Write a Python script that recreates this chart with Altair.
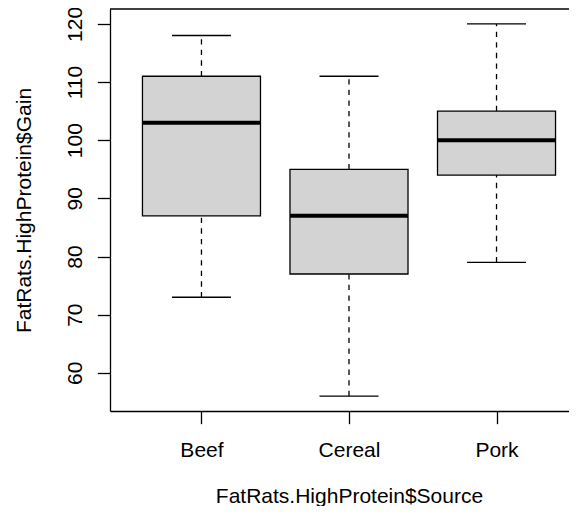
import json
import altair as alt
import pandas as pd

categories = ["Beef", "Cereal", "Pork"]
lower = [73, 56, 79]
q1 = [87, 77, 94]
median = [103, 87, 100]
q3 = [111, 95, 105]
upper = [118, 111, 120]
y_ticks = [60, 70, 80, 90, 100, 110, 120]

df = pd.DataFrame({
    "cat": categories,
    "pos": list(range(1, len(categories) + 1)),
    "lower": lower, "q1": q1, "median": median, "q3": q3, "upper": upper,
})

FONT = "Liberation Sans"
LW = 1.3
W, H = 459, 402

xs = alt.Scale(domain=[0.38, 0.38 + W / 147.53], nice=False, zero=False)
ys = alt.Scale(domain=[53.44, 122.56], nice=False, zero=False)

xaxis = alt.Axis(
    values=[1, 2, 3],
    labelExpr=f"{json.dumps(categories)}[datum.value - 1]",
    title="FatRats.HighProtein$Source",
    domain=True, domainColor="black", domainWidth=LW, grid=False,
    tickSize=12.7, tickWidth=LW, tickColor="black",
    labelFont=FONT, labelFontSize=21, labelColor="black",
    labelBaseline="alphabetic", labelPadding=33, labelAlign="center",
    titleFont=FONT, titleFontSize=21, titleFontWeight="normal", titleColor="black",
    titleBaseline="alphabetic", titleY=91, titleX=239, titleAlign="center",
)
yaxis = alt.Axis(
    values=y_ticks,
    title="FatRats.HighProtein$Gain",
    domain=True, domainColor="black", domainWidth=LW, grid=False,
    tickSize=12.7, tickWidth=LW, tickColor="black",
    labelFont=FONT, labelFontSize=21, labelColor="black",
    labelAngle=-90, labelAlign="center", labelBaseline="alphabetic",
    labelPadding=15.6,
    titleFont=FONT, titleFontSize=21, titleFontWeight="normal", titleColor="black",
    titleAngle=-90, titleAlign="center", titleBaseline="alphabetic",
    titleX=-80, titleY=201,
)

base = alt.Chart(df).transform_calculate(
    xl="datum.pos - 0.4", xr="datum.pos + 0.4",
    cl="datum.pos - 0.2", cr="datum.pos + 0.2",
)

def X(f):
    return alt.X(f"{f}:Q", scale=xs, axis=xaxis)

def Y(f):
    return alt.Y(f"{f}:Q", scale=ys, axis=yaxis)

whisk_up = base.mark_rule(color="black", strokeWidth=LW, strokeDash=[5.3, 5.3]).encode(
    x=X("pos"), y=Y("q3"), y2="upper:Q")
whisk_lo = base.mark_rule(color="black", strokeWidth=LW, strokeDash=[5.3, 5.3]).encode(
    x=X("pos"), y=Y("lower"), y2="q1:Q")
cap_up = base.mark_rule(color="black", strokeWidth=LW).encode(
    x=X("cl"), x2="cr:Q", y=Y("upper"))
cap_lo = base.mark_rule(color="black", strokeWidth=LW).encode(
    x=X("cl"), x2="cr:Q", y=Y("lower"))
box = base.mark_rect(fill="#D3D3D3", stroke="black", strokeWidth=LW).encode(
    x=X("xl"), x2="xr:Q", y=Y("q1"), y2="q3:Q")
med = base.mark_rule(color="black", strokeWidth=4).encode(
    x=X("xl"), x2="xr:Q", y=Y("median"))
top_line = alt.Chart(pd.DataFrame({"a": [0]})).mark_rule(
    color="black", strokeWidth=LW).encode(
    x=alt.value(0), x2=alt.value(W), y=alt.value(0))

chart = alt.layer(whisk_up, whisk_lo, cap_up, cap_lo, box, med, top_line).properties(
    width=W, height=H,
    autosize=alt.AutoSizeParams(type="none"),
    padding={"left": 102, "top": 1, "right": 0, "bottom": 95},
    background="white",
).configure_view(stroke=None)

chart.save("out.html", embed_options={"renderer": "svg", "actions": False})
